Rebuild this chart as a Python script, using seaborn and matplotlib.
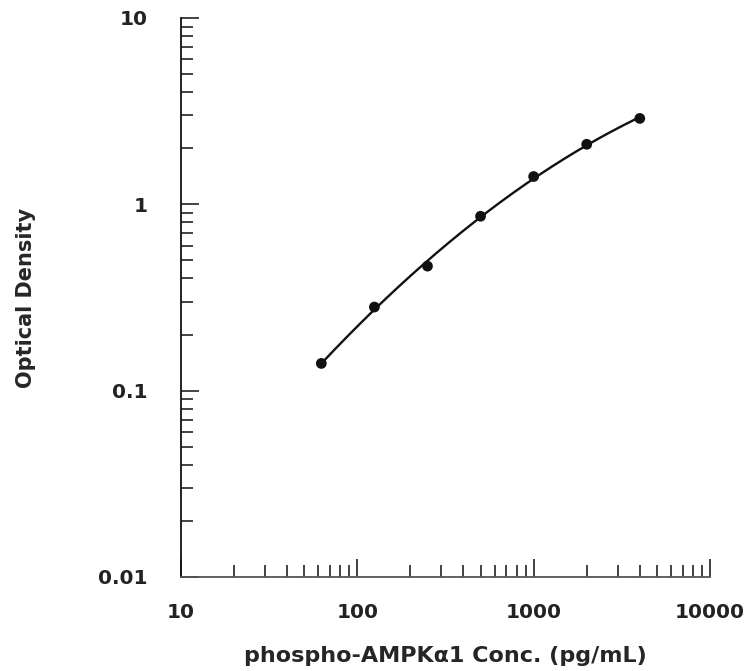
import numpy as np
import pandas as pd
import seaborn as sns
import matplotlib
matplotlib.use("Agg")
import matplotlib.pyplot as plt
from matplotlib.ticker import FixedLocator, FixedFormatter, LogLocator, NullFormatter

# --------------------- Data ---------------------
conc = [62.5, 125, 250, 500, 1000, 2000, 4000]
od = [0.140, 0.281, 0.466, 0.863, 1.41, 2.10, 2.89]
x_ticks = [10, 100, 1000, 10000]
x_ticklabels = ["10", "100", "1000", "10000"]
y_ticks = [0.01, 0.1, 1, 10]
y_ticklabels = ["0.01", "0.1", "1", "10"]

df = pd.DataFrame({"conc": conc, "od": od})

# quadratic fit in log-log space for the standard curve
coef = np.polyfit(np.log10(df["conc"]), np.log10(df["od"]), 2)
fit_x = np.logspace(np.log10(conc[0]), np.log10(conc[-1]), 200)
fit = pd.DataFrame({"conc": fit_x, "od": 10 ** np.polyval(coef, np.log10(fit_x))})

# --------------------- Plot ---------------------
sns.set_style("white")
plt.rcParams["font.family"] = ["DejaVu Sans"]
plt.rcParams["font.weight"] = "bold"

fig = plt.figure(figsize=(7.46, 6.71), dpi=100)
ax = fig.add_axes([0.2426, 0.1401, 0.7091, 0.8331])

sns.lineplot(data=fit, x="conc", y="od", ax=ax, color="#111111", linewidth=1.7)
sns.scatterplot(data=df, x="conc", y="od", ax=ax, color="#111111", s=60, edgecolor="none", zorder=3)

ax.set_xscale("log")
ax.set_yscale("log")
ax.set_xlim(10, 10000)
ax.set_ylim(0.01, 10)

ax.xaxis.set_major_locator(FixedLocator(x_ticks))
ax.xaxis.set_major_formatter(FixedFormatter(x_ticklabels))
ax.yaxis.set_major_locator(FixedLocator(y_ticks))
ax.yaxis.set_major_formatter(FixedFormatter(y_ticklabels))
ax.xaxis.set_minor_locator(LogLocator(base=10, subs=np.arange(2, 10)))
ax.yaxis.set_minor_locator(LogLocator(base=10, subs=np.arange(2, 10)))
ax.xaxis.set_minor_formatter(NullFormatter())
ax.yaxis.set_minor_formatter(NullFormatter())

ax.tick_params(axis="both", which="both", bottom=True, left=True, top=False, right=False)
ax.tick_params(axis="both", which="major", direction="in", length=13, width=1.2,
               colors="#222222", labelsize=14.5)
ax.tick_params(axis="both", which="minor", direction="in", length=8.5, width=1.2, colors="#222222")
ax.tick_params(axis="x", which="major", pad=19)
ax.tick_params(axis="y", which="major", pad=24)

for side in ["top", "right"]:
    ax.spines[side].set_visible(False)
ax.spines["left"].set_color("#111111")
ax.spines["bottom"].set_color("#555555")
ax.spines["left"].set_linewidth(1.3)
ax.spines["bottom"].set_linewidth(1.3)

ax.set_xlabel("phospho-AMPK\u03b11 Conc. (pg/mL)", fontsize=16, fontweight="bold", labelpad=17)
ax.set_ylabel("Optical Density", fontsize=15, fontweight="bold", labelpad=45)
for lbl in ax.get_xticklabels() + ax.get_yticklabels():
    lbl.set_fontweight("bold")

fig.savefig("out.png", dpi=100)
